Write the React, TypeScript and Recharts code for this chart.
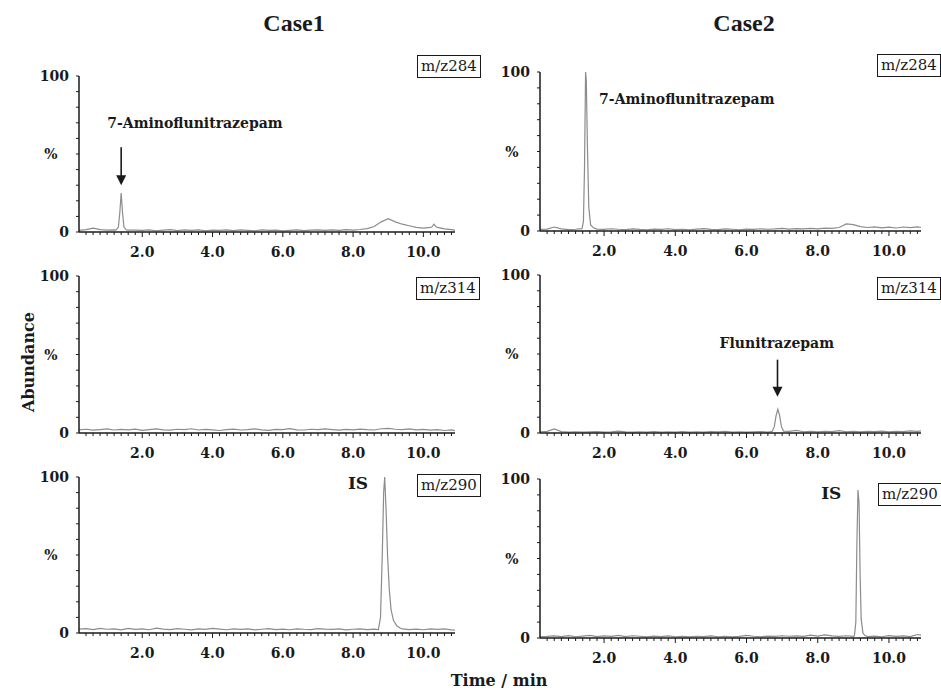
import { LineChart, Line, XAxis, YAxis, ReferenceDot } from 'recharts'

// retention time grid of the baseline samples (min)
const BASE_T = [
  0.2, 0.4, 0.6, 0.8, 1.0, 1.2, 1.4, 1.6, 1.8, 2.0,
  2.2, 2.4, 2.6, 2.8, 3.0, 3.2, 3.4, 3.6, 3.8, 4.0,
  4.2, 4.4, 4.6, 4.8, 5.0, 5.2, 5.4, 5.6, 5.8, 6.0,
  6.2, 6.4, 6.6, 6.8, 7.0, 7.2, 7.4, 7.6, 7.8, 8.0,
  8.2, 8.4, 8.6, 8.8, 9.0, 9.2, 9.4, 9.6, 9.8, 10.0,
  10.2, 10.4, 10.6, 10.8, 10.9,
]

// abundance (%) at BASE_T
const C1_MZ284 = [
  1.0, 1.5, 2.5, 1.5, 1.2, 1.3, 1.1, 1.2, 1.2, 1.0,
  1.4, 0.8, 1.2, 1.5, 0.9, 1.3, 1.0, 1.4, 0.8, 1.2,
  1.0, 1.3, 0.9, 1.4, 1.1, 0.8, 1.3, 1.0, 1.2, 0.7,
  1.0, 1.3, 0.9, 1.2, 1.4, 1.0, 1.3, 1.1, 1.5, 1.2,
  1.6, 2.2, 3.5, 6.5, 8.5, 6.5, 5.0, 4.0, 3.0, 2.5,
  3.0, 3.0, 2.0, 1.5, 1.2,
]
const C1_MZ314 = [
  2.0, 2.4, 1.8, 2.2, 2.6, 1.9, 2.3, 2.0, 2.5, 1.7,
  2.2, 2.6, 2.0, 1.8, 2.4, 2.1, 2.7, 1.9, 2.3, 2.0,
  1.6, 2.2, 2.5, 1.9, 2.1, 2.6, 2.0, 1.7, 2.3, 2.2,
  2.8, 2.0, 1.9, 2.4, 2.1, 2.6, 2.2, 1.8, 2.3, 2.0,
  2.5, 2.1, 1.9, 2.7, 3.0, 2.4, 2.2, 2.6, 2.0, 2.3,
  1.8, 2.2, 1.6, 2.0, 1.5,
]
const C1_MZ290 = [
  2.5, 2.8, 2.2, 3.0, 2.4, 2.6, 2.0, 2.9, 2.3, 2.7,
  2.1, 3.1, 2.5, 2.2, 2.8, 2.4, 2.0, 2.6, 2.3, 2.9,
  2.5, 2.1, 2.7, 2.3, 2.6, 2.0, 2.4, 2.8, 2.2, 2.5,
  2.1, 2.7, 2.4, 2.2, 2.8, 2.5, 2.3, 2.6, 2.0, 2.4,
  2.7, 2.2, 2.5, 2.3, 2.0, 2.0, 2.6, 2.2, 2.5, 2.1,
  2.7, 2.3, 2.6, 2.0, 1.8,
]
const C2_MZ284 = [
  1.0, 1.2, 2.5, 1.3, 0.9, 1.1, 1.0, 1.1, 1.2, 1.0,
  1.4, 1.1, 0.9, 1.3, 1.0, 0.8, 1.2, 1.0, 1.4, 0.9,
  1.1, 0.8, 1.2, 1.5, 1.0, 0.9, 1.3, 1.1, 0.8, 1.2,
  1.0, 1.4, 1.1, 1.3, 1.6, 1.2, 1.5, 1.3, 1.7, 1.4,
  1.8, 1.6, 2.2, 4.5, 4.0, 2.8, 2.2, 2.6, 2.0, 2.4,
  1.9, 2.5, 2.1, 2.6, 2.2,
]
const C2_MZ314 = [
  0.8, 1.0, 2.6, 0.9, 0.6, 0.8, 0.5, 0.7, 0.9, 0.6,
  0.8, 1.2, 0.7, 0.5, 0.8, 0.6, 0.9, 0.5, 0.7, 0.6,
  0.9, 0.5, 0.8, 0.6, 0.9, 0.7, 1.0, 0.6, 0.8, 0.5,
  0.7, 0.9, 0.6, 0.8, 0.9, 1.0, 1.6, 0.8, 1.0, 0.7,
  1.1, 0.9, 1.5, 0.8, 1.0, 0.7, 1.1, 0.9, 1.2, 0.8,
  1.1, 0.9, 1.3, 1.0, 1.4,
]
const C2_MZ290 = [
  0.8, 1.0, 1.3, 0.9, 1.5, 0.8, 1.2, 1.6, 0.9, 1.3,
  1.0, 1.7, 0.9, 1.4, 1.1, 0.7, 1.2, 0.9, 1.3, 0.8,
  1.0, 0.7, 1.1, 0.9, 1.3, 0.8, 1.1, 0.7, 1.0, 1.6,
  1.1, 0.8, 1.2, 1.0, 1.4, 1.1, 1.3, 1.0, 1.8, 1.2,
  1.9, 1.3, 1.0, 1.4, 1.0, 1.0, 0.9, 1.2, 0.8, 1.5,
  1.0, 1.3, 0.9, 2.2, 1.8,
]

// finely sampled peaks [time, abundance]
const C1_AF_PEAK: [number, number][] = [
  [1.25, 1.2], [1.32, 3], [1.36, 12], [1.4, 25], [1.44, 12], [1.48, 3], [1.55, 1.3],
]
const C1_LATE_PEAK: [number, number][] = [[10.24, 3.2], [10.3, 5], [10.36, 3.4]]
const C1_IS_PEAK: [number, number][] = [
  [8.72, 2.2], [8.78, 10], [8.83, 50], [8.87, 90], [8.9, 100], [8.94, 78],
  [8.98, 50], [9.03, 28], [9.08, 15], [9.15, 8], [9.25, 4.5], [9.35, 3],
]
const C2_AF_PEAK: [number, number][] = [
  [1.38, 1.5], [1.42, 6], [1.45, 40], [1.48, 100], [1.5, 95], [1.53, 55],
  [1.57, 15], [1.62, 4], [1.7, 2],
]
const C2_FN_PEAK: [number, number][] = [
  [6.72, 1], [6.78, 4], [6.83, 11], [6.88, 15], [6.93, 11], [6.98, 4], [7.04, 1.2],
]
const C2_IS_PEAK: [number, number][] = [
  [9.03, 1.5], [9.07, 10], [9.1, 60], [9.13, 93], [9.16, 85], [9.19, 40],
  [9.22, 12], [9.27, 3], [9.33, 1.5],
]

const X_TICKS = [
  0.4, 0.6, 0.8, 1.0, 1.2, 1.4, 1.6, 1.8, 2.0, 2.2, 2.4, 2.6, 2.8, 3.0,
  3.2, 3.4, 3.6, 3.8, 4.0, 4.2, 4.4, 4.6, 4.8, 5.0, 5.2, 5.4, 5.6, 5.8, 6.0,
  6.2, 6.4, 6.6, 6.8, 7.0, 7.2, 7.4, 7.6, 7.8, 8.0, 8.2, 8.4, 8.6, 8.8, 9.0,
  9.2, 9.4, 9.6, 9.8, 10.0, 10.2, 10.4, 10.6, 10.8,
]
const X_MAJOR = [2.0, 4.0, 6.0, 8.0, 10.0]
const X_LABELS = ['2.0', '4.0', '6.0', '8.0', '10.0']
const Y_TICKS = [0, 10, 20, 30, 40, 50, 60, 70, 80, 90, 100]
const Y_MAJOR = [0, 50, 100]
const Y_LABELS = ['0', '%', '100']

const SERIF = '"DejaVu Serif", "Liberation Serif", serif'
const INK = '#1a1a1a'
const TRACE = '#8c8c8c'

type Note =
  | { kind: 'text'; t: number; y: number; text: string; anchor: 'start' | 'middle'; size: number }
  | { kind: 'arrow'; t: number; y: number; len: number }

interface Panel {
  id: string
  base: number[]
  peaks: [number, number][][]
  left: number
  width: number
  yAxisW: number
  right: number
  plotTop: number
  plotH: number
  mz: string
  box: { left: number; top: number }
  notes: Note[]
}

const PANELS: Panel[] = [
  {
    id: 'c1-284', base: C1_MZ284, peaks: [C1_AF_PEAK, C1_LATE_PEAK],
    left: 0, width: 470, yAxisW: 79, right: 15, plotTop: 76, plotH: 156,
    mz: 'm/z284', box: { left: 417, top: 55 },
    notes: [
      { kind: 'text', t: 3.5, y: 70, text: '7-Aminoflunitrazepam', anchor: 'middle', size: 14 },
      { kind: 'arrow', t: 1.4, y: 30, len: 38 },
    ],
  },
  {
    id: 'c2-284', base: C2_MZ284, peaks: [C2_AF_PEAK],
    left: 470, width: 471, yAxisW: 70, right: 20, plotTop: 72, plotH: 159,
    mz: 'm/z284', box: { left: 877, top: 54 },
    notes: [
      { kind: 'text', t: 1.86, y: 83, text: '7-Aminoflunitrazepam', anchor: 'start', size: 14 },
    ],
  },
  {
    id: 'c1-314', base: C1_MZ314, peaks: [],
    left: 0, width: 470, yAxisW: 79, right: 15, plotTop: 276, plotH: 157,
    mz: 'm/z314', box: { left: 416, top: 277 },
    notes: [],
  },
  {
    id: 'c2-314', base: C2_MZ314, peaks: [C2_FN_PEAK],
    left: 470, width: 471, yAxisW: 70, right: 20, plotTop: 275, plotH: 158,
    mz: 'm/z314', box: { left: 877, top: 277 },
    notes: [
      { kind: 'text', t: 6.85, y: 57, text: 'Flunitrazepam', anchor: 'middle', size: 14 },
      { kind: 'arrow', t: 6.87, y: 23, len: 37 },
    ],
  },
  {
    id: 'c1-290', base: C1_MZ290, peaks: [C1_IS_PEAK],
    left: 0, width: 470, yAxisW: 79, right: 15, plotTop: 477, plotH: 156,
    mz: 'm/z290', box: { left: 417, top: 474 },
    notes: [{ kind: 'text', t: 8.14, y: 96, text: 'IS', anchor: 'middle', size: 17 }],
  },
  {
    id: 'c2-290', base: C2_MZ290, peaks: [C2_IS_PEAK],
    left: 470, width: 471, yAxisW: 70, right: 20, plotTop: 479, plotH: 159,
    mz: 'm/z290', box: { left: 878, top: 483 },
    notes: [{ kind: 'text', t: 8.38, y: 91, text: 'IS', anchor: 'middle', size: 17 }],
  },
]

// baseline samples, with the finely sampled peaks put in their place
function buildSeries(base: number[], peaks: [number, number][][]) {
  let pts = BASE_T.map((t, i) => ({ t, v: base[i] }))
  peaks.forEach((pk) => {
    const lo = pk[0][0]
    const hi = pk[pk.length - 1][0]
    pts = pts.filter((p) => p.t < lo || p.t > hi)
    pk.forEach(([t, v]) => pts.push({ t, v }))
  })
  return pts.sort((a, b) => a.t - b.t)
}

function XTick(props: any) {
  const { x, y, payload } = props
  const i = X_MAJOR.indexOf(payload.value)
  if (i < 0) {
    return <line x1={x} y1={y} x2={x} y2={y + 3} stroke={INK} strokeWidth={1} />
  }
  return (
    <g>
      <line x1={x} y1={y} x2={x} y2={y + 5} stroke={INK} strokeWidth={1} />
      <text x={x} y={y + 25} textAnchor="middle" fontFamily={SERIF} fontWeight="bold" fontSize={14} fill={INK}>
        {X_LABELS[i]}
      </text>
    </g>
  )
}

function YTick(props: any) {
  const { x, y, payload } = props
  const i = Y_MAJOR.indexOf(payload.value)
  const isPct = payload.value === 50
  return (
    <g>
      <line x1={x - 3} y1={y} x2={x} y2={y} stroke={INK} strokeWidth={1} />
      {i >= 0 && (
        <text
          x={isPct ? x - 28 : x - 10}
          y={y + 5}
          textAnchor={isPct ? 'middle' : 'end'}
          fontFamily={SERIF}
          fontWeight="bold"
          fontSize={14}
          fill={INK}
        >
          {Y_LABELS[i]}
        </text>
      )}
    </g>
  )
}

function NoteMark({ note }: { note: Note }) {
  if (note.kind === 'text') {
    return (
      <ReferenceDot
        x={note.t}
        y={note.y}
        r={0}
        ifOverflow="visible"
        shape={(p: any) => (
          <text
            x={p.cx}
            y={p.cy}
            textAnchor={note.anchor}
            dominantBaseline="central"
            fontFamily={SERIF}
            fontWeight="bold"
            fontSize={note.size}
            fill={INK}
          >
            {note.text}
          </text>
        )}
      />
    )
  }
  return (
    <ReferenceDot
      x={note.t}
      y={note.y}
      r={0}
      ifOverflow="visible"
      shape={(p: any) => (
        <g>
          <line x1={p.cx} y1={p.cy - note.len} x2={p.cx} y2={p.cy - 9} stroke={INK} strokeWidth={1.6} />
          <polygon points={`${p.cx - 5},${p.cy - 10} ${p.cx + 5},${p.cy - 10} ${p.cx},${p.cy}`} fill={INK} />
        </g>
      )}
    />
  )
}

function Chromatogram({ panel }: { panel: Panel }) {
  const data = buildSeries(panel.base, panel.peaks)
  const top = 10
  const xAxisH = 30
  return (
    <div style={{ position: 'absolute', left: panel.left, top: panel.plotTop - top }}>
      <LineChart
        width={panel.width}
        height={top + panel.plotH + xAxisH}
        data={data}
        margin={{ top, right: panel.right, bottom: 0, left: 0 }}
      >
        <XAxis
          dataKey="t"
          type="number"
          domain={[0.2, 10.9]}
          ticks={X_TICKS}
          interval={0}
          height={xAxisH}
          tickSize={0}
          tickMargin={0}
          tickLine={false}
          axisLine={{ stroke: INK, strokeWidth: 1.5 }}
          tick={(p: any) => <XTick {...p} />}
          allowDataOverflow
        />
        <YAxis
          type="number"
          domain={[0, 100]}
          ticks={Y_TICKS}
          interval={0}
          width={panel.yAxisW}
          tickSize={0}
          tickMargin={0}
          tickLine={false}
          axisLine={{ stroke: INK, strokeWidth: 1.5 }}
          tick={(p: any) => <YTick {...p} />}
          allowDataOverflow
        />
        <Line
          type="linear"
          dataKey="v"
          stroke={TRACE}
          strokeWidth={1.2}
          dot={false}
          isAnimationActive={false}
        />
        {panel.notes.map((n, i) => NoteMark({ note: n }))}
      </LineChart>
    </div>
  )
}

export default function App() {
  return (
    <div
      style={{
        position: 'absolute',
        left: 0,
        top: 0,
        width: 941,
        height: 695,
        background: '#fff',
        overflow: 'hidden',
        color: INK,
      }}
    >
      {PANELS.map((p) => (
        <Chromatogram key={p.id} panel={p} />
      ))}
      {PANELS.map((p) => (
        <div
          key={p.id + '-mz'}
          style={{
            position: 'absolute',
            left: p.box.left,
            top: p.box.top,
            height: 21,
            lineHeight: '21px',
            padding: '0 3px',
            border: `1px solid ${INK}`,
            background: '#fff',
            fontFamily: SERIF,
            fontSize: 15,
            whiteSpace: 'nowrap',
          }}
        >
          {p.mz}
        </div>
      ))}
      <div style={{ position: 'absolute', left: 244, top: 10, width: 100, textAlign: 'center', fontFamily: '"Liberation Serif", serif', fontWeight: 'bold', fontSize: 24 }}>
        Case1
      </div>
      <div style={{ position: 'absolute', left: 694, top: 10, width: 100, textAlign: 'center', fontFamily: '"Liberation Serif", serif', fontWeight: 'bold', fontSize: 24 }}>
        Case2
      </div>
      <div
        style={{
          position: 'absolute',
          left: 28,
          top: 362,
          width: 140,
          textAlign: 'center',
          transform: 'translate(-50%, -50%) rotate(-90deg)',
          fontFamily: SERIF,
          fontWeight: 'bold',
          fontSize: 16,
        }}
      >
        Abundance
      </div>
      <div
        style={{
          position: 'absolute',
          left: 429,
          top: 671,
          width: 140,
          textAlign: 'center',
          fontFamily: SERIF,
          fontWeight: 'bold',
          fontSize: 16,
        }}
      >
        Time / min
      </div>
    </div>
  )
}
